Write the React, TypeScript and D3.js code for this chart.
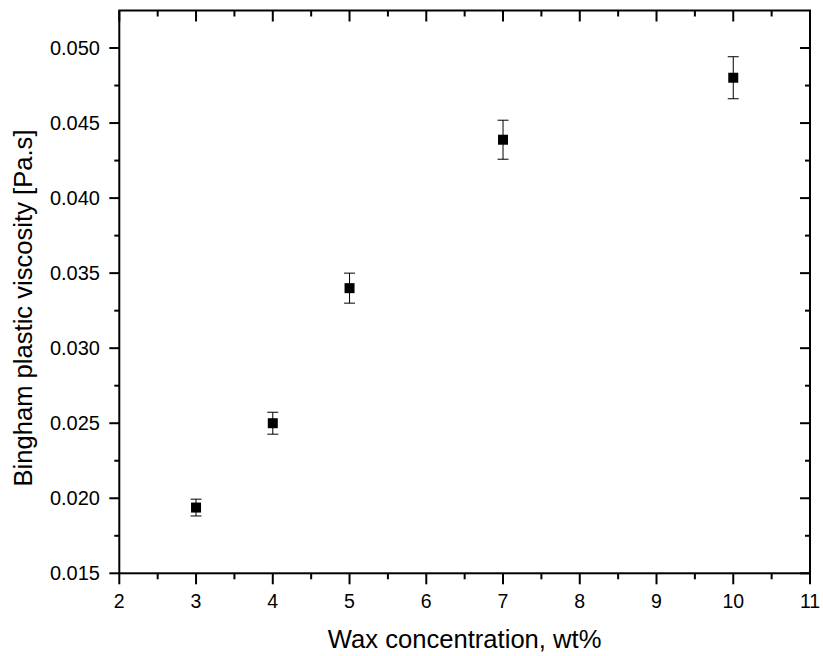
import React from "react";
import * as d3 from "d3";

const concentrations = [3, 4, 5, 7, 10];
const viscosity = [0.01938, 0.025, 0.034, 0.04389, 0.04802];
const viscosityErr = [0.00056, 0.00073, 0.001, 0.0013, 0.0014];
const xTickValues = [2, 3, 4, 5, 6, 7, 8, 9, 10, 11];
const yTickValues = [0.015, 0.02, 0.025, 0.03, 0.035, 0.04, 0.045, 0.05];
const xTitle = "Wax concentration, wt%";
const yTitle = "Bingham plastic viscosity [Pa.s]";

const W = 823;
const H = 656;
const left = 119.3;
const right = 810;
const top = 10.5;
const bottom = 573.3;
const FONT = "Arial, 'Liberation Sans', Helvetica, sans-serif";

export default function App() {
  const x = d3.scaleLinear().domain([2, 11]).range([left, right]);
  const y = d3.scaleLinear().domain([0.015, 0.0525]).range([bottom, top]);

  const xMinor = d3.range(2, 11.001, 0.5).filter((v) => Math.abs(v - Math.round(v)) > 1e-6);
  const yMinor = d3.range(0, 16).map((i) => 0.015 + i * 0.0025).filter((v, i) => i % 2 === 1 && v < 0.0525);

  const fmt = d3.format(".3f");
  const sw = 2;

  return (
    <svg
      width={W}
      height={H}
      style={{ position: "absolute", left: 0, top: 0, background: "#fff" }}
      fontFamily={FONT}
    >
      <rect x={0} y={0} width={W} height={H} fill="#fff" />
      {/* ticks bottom (outward) */}
      {xTickValues.map((v) => (
        <line key={"bx" + v} x1={x(v)} x2={x(v)} y1={bottom} y2={bottom + 11} stroke="#000" strokeWidth={sw} />
      ))}
      {xMinor.map((v) => (
        <line key={"bxm" + v} x1={x(v)} x2={x(v)} y1={bottom} y2={bottom + 6} stroke="#000" strokeWidth={sw} />
      ))}
      {/* ticks top (inward) */}
      {xTickValues.map((v) => (
        <line key={"tx" + v} x1={x(v)} x2={x(v)} y1={top} y2={top + 11} stroke="#000" strokeWidth={sw} />
      ))}
      {xMinor.map((v) => (
        <line key={"txm" + v} x1={x(v)} x2={x(v)} y1={top} y2={top + 6} stroke="#000" strokeWidth={sw} />
      ))}
      {/* ticks left (outward) */}
      {yTickValues.map((v) => (
        <line key={"ly" + v} x1={left - 10} x2={left} y1={y(v)} y2={y(v)} stroke="#000" strokeWidth={sw} />
      ))}
      {yMinor.map((v) => (
        <line key={"lym" + v} x1={left - 5} x2={left} y1={y(v)} y2={y(v)} stroke="#000" strokeWidth={sw} />
      ))}
      {/* ticks right (inward) */}
      {yTickValues.map((v) => (
        <line key={"ry" + v} x1={right - 10} x2={right} y1={y(v)} y2={y(v)} stroke="#000" strokeWidth={sw} />
      ))}
      {yMinor.map((v) => (
        <line key={"rym" + v} x1={right - 5} x2={right} y1={y(v)} y2={y(v)} stroke="#000" strokeWidth={sw} />
      ))}
      {/* frame */}
      <rect x={left} y={top} width={right - left} height={bottom - top} fill="none" stroke="#000" strokeWidth={sw} />

      {/* tick labels */}
      {xTickValues.map((v) => (
        <text key={"xl" + v} x={x(v)} y={608} textAnchor="middle" fontSize={19.5} fill="#000">
          {v}
        </text>
      ))}
      {yTickValues.map((v) => (
        <text
          key={"yl" + v}
          x={100}
          y={y(v)}
          textAnchor="end"
          dominantBaseline="central"
          fontSize={20}
          fill="#000"
        >
          {fmt(v)}
        </text>
      ))}

      {/* titles */}
      <text x={(left + right) / 2} y={648} textAnchor="middle" fontSize={25.6} fill="#000">
        {xTitle}
      </text>
      <text
        transform={`translate(32,308) rotate(-90)`}
        textAnchor="middle"
        fontSize={25.6}
        fill="#000"
      >
        {yTitle}
      </text>

      {/* error bars and markers */}
      {concentrations.map((c, i) => {
        const cx = x(c);
        const yHi = y(viscosity[i] + viscosityErr[i]);
        const yLo = y(viscosity[i] - viscosityErr[i]);
        return (
          <g key={"pt" + c}>
            <line x1={cx} x2={cx} y1={yHi} y2={yLo} stroke="#000" strokeWidth={1} />
            <line x1={cx - 5.5} x2={cx + 5.5} y1={yHi} y2={yHi} stroke="#000" strokeWidth={1} />
            <line x1={cx - 5.5} x2={cx + 5.5} y1={yLo} y2={yLo} stroke="#000" strokeWidth={1} />
            <rect x={cx - 5} y={y(viscosity[i]) - 5} width={10} height={10} fill="#000" />
          </g>
        );
      })}
    </svg>
  );
}
